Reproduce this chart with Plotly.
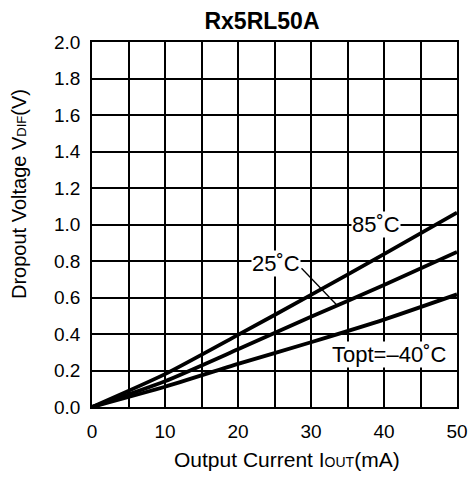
import plotly.graph_objects as go

current = [0, 10, 20, 30, 40, 50]
vdif_85 = [0, 0.18, 0.395, 0.614, 0.838, 1.065]
vdif_25 = [0, 0.141, 0.316, 0.495, 0.668, 0.85]
vdif_m40 = [0, 0.111, 0.236, 0.355, 0.479, 0.617]

x_ticks = [0, 10, 20, 30, 40, 50]
y_ticks = [0.0, 0.2, 0.4, 0.6, 0.8, 1.0, 1.2, 1.4, 1.6, 1.8, 2.0]

FONT = "Liberation Sans, Arial, Helvetica, sans-serif"

fig = go.Figure()
for ys in [vdif_85, vdif_25, vdif_m40]:
    fig.add_trace(go.Scatter(x=current, y=ys, mode="lines",
                             line=dict(color="black", width=3.8, shape="spline", smoothing=0.6),
                             showlegend=False, hoverinfo="skip"))

# leader line for 25 C label
fig.add_trace(go.Scatter(x=[28.7, 33.5], y=[0.76, 0.56], mode="lines",
                         line=dict(color="black", width=1.3),
                         showlegend=False, hoverinfo="skip"))

annots = [
    dict(x=38.9, y=1.0, text="85˚C"),
    dict(x=25.2, y=0.787, text="25˚C"),
    dict(x=40.7, y=0.285, text="Topt=–40˚C"),
]
for a in annots:
    fig.add_annotation(x=a["x"], y=a["y"], text=a["text"], showarrow=False,
                       font=dict(size=22, color="black", family=FONT),
                       bgcolor="white", borderpad=0)

# axis titles as annotations (positioned like the reference)
fig.add_annotation(xref="paper", yref="paper", x=0.535, y=-0.145,
                   xanchor="center", yanchor="middle", showarrow=False,
                   text="Output Current I<span style='font-size:14px'>OUT</span>(mA)",
                   font=dict(size=21, color="black", family=FONT))
fig.add_annotation(xref="paper", yref="paper", x=-0.2, y=0.5836,
                   xanchor="center", yanchor="middle", showarrow=False,
                   textangle=-90,
                   text="Dropout Voltage V<span style='font-size:13px'>DIF</span>(V)",
                   font=dict(size=20, color="black", family=FONT))

fig.update_layout(
    width=470, height=477,
    margin=dict(l=92, r=13, t=42, b=70, autoexpand=False),
    paper_bgcolor="white", plot_bgcolor="white",
    font=dict(family=FONT, size=19, color="black"),
    title=dict(text="<b>Rx5RL50A</b>", x=0.5574, xanchor="center",
               xref="container", yref="container",
               y=0.956, yanchor="middle",
               font=dict(size=23, family=FONT, color="black")),
)
fig.update_xaxes(
    range=[0, 50], tickvals=x_ticks, ticktext=[str(v) for v in x_ticks],
    showgrid=True, gridcolor="black", gridwidth=1.8,
    minor=dict(dtick=5, showgrid=True, gridcolor="black", gridwidth=1.8),
    showline=True, linecolor="black", linewidth=1.8, mirror=True,
    zeroline=False, ticks="", ticklabelstandoff=6, automargin=False,
    tickfont=dict(size=19),
)
fig.update_yaxes(
    range=[0, 2.0], tickvals=y_ticks, ticktext=[f"{v:.1f}" for v in y_ticks],
    showgrid=True, gridcolor="black", gridwidth=1.8,
    showline=True, linecolor="black", linewidth=1.8, mirror=True,
    zeroline=False, ticks="", ticklabelstandoff=6, automargin=False,
    tickfont=dict(size=19),
)

fig.write_html("out.html",
               config={"displayModeBar": False},
               post_script="document.body.style.margin='0';document.body.style.overflow='hidden';")
